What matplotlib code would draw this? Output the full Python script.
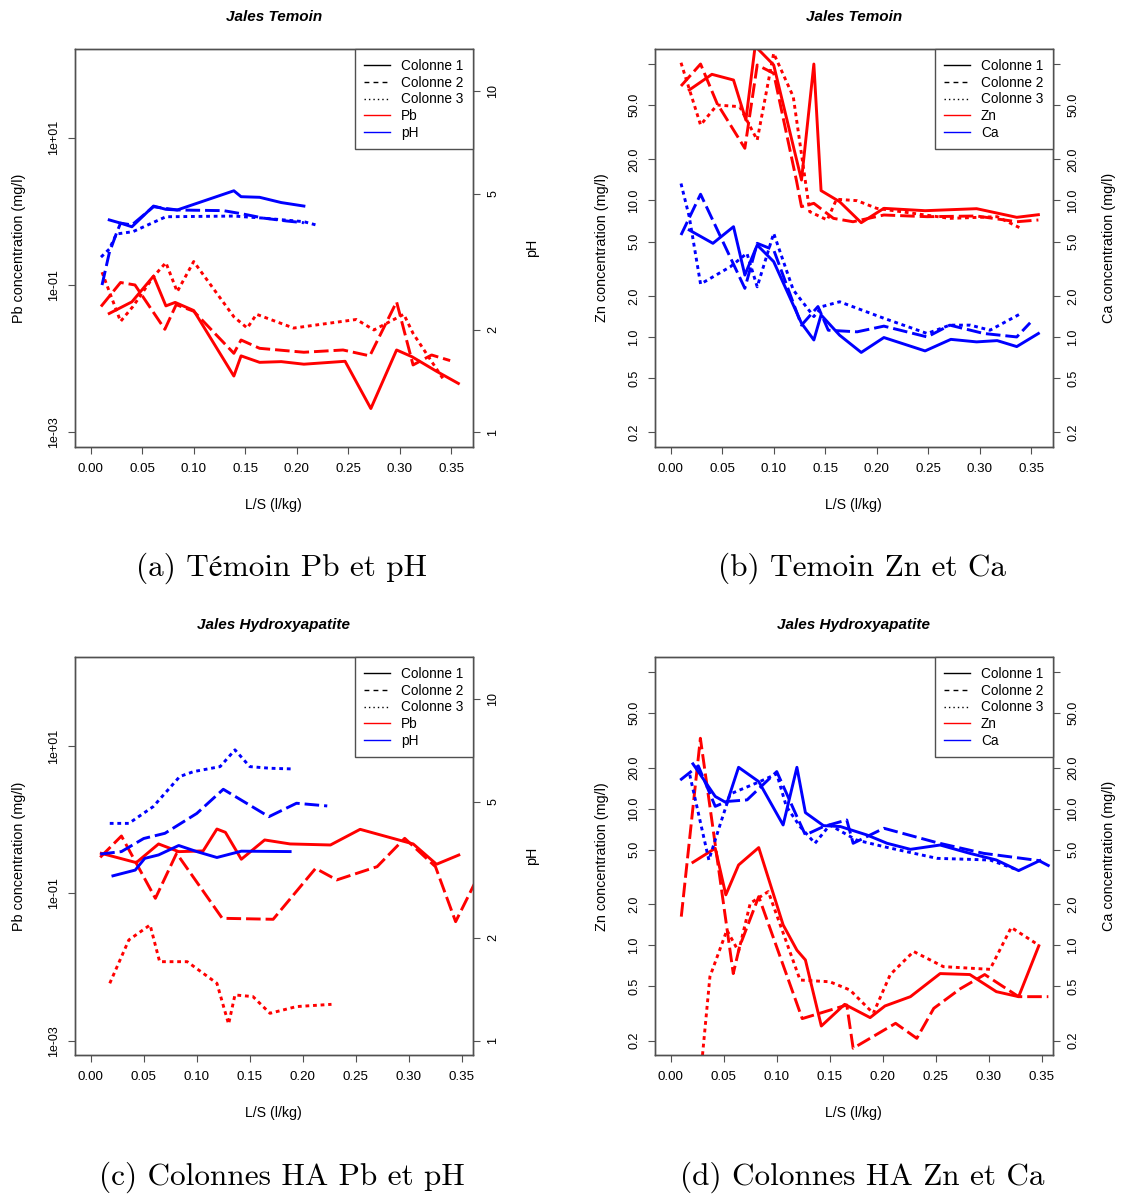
import matplotlib
matplotlib.use("Agg")
import matplotlib.pyplot as plt
from matplotlib.lines import Line2D

plt.rcParams['font.family'] = ['Liberation Sans', 'DejaVu Sans']

W, H = 1123, 1196

# ---------------- (a) Jales Temoin : Pb / pH ----------------
a_x1 = [0.018, 0.040, 0.061, 0.073, 0.082, 0.100, 0.139, 0.146, 0.164, 0.185, 0.207, 0.247, 0.272, 0.297, 0.312, 0.336, 0.357]
a_pb1 = [0.041, 0.059, 0.132, 0.052, 0.058, 0.045, 0.0058, 0.0109, 0.0089, 0.0091, 0.0084, 0.0092, 0.0021, 0.0131, 0.0106, 0.0067, 0.0046]
a_x2 = [0.010, 0.029, 0.043, 0.072, 0.083, 0.100, 0.139, 0.146, 0.164, 0.207, 0.245, 0.271, 0.297, 0.313, 0.331, 0.349]
a_pb2 = [0.051, 0.108, 0.100, 0.025, 0.054, 0.044, 0.0118, 0.0179, 0.0138, 0.0122, 0.0131, 0.0109, 0.059, 0.0082, 0.0112, 0.0094]
a_x3 = [0.011, 0.029, 0.041, 0.061, 0.073, 0.084, 0.100, 0.139, 0.152, 0.161, 0.197, 0.258, 0.275, 0.304, 0.313, 0.343]
a_pb3 = [0.149, 0.032, 0.051, 0.130, 0.201, 0.081, 0.208, 0.037, 0.026, 0.040, 0.026, 0.034, 0.0245, 0.040, 0.022, 0.0051]
a_phx1 = [0.018, 0.029, 0.040, 0.061, 0.073, 0.084, 0.139, 0.146, 0.164, 0.185, 0.207]
a_ph1 = [4.19, 4.10, 4.00, 4.60, 4.50, 4.48, 5.10, 4.90, 4.88, 4.71, 4.60]
a_phx2 = [0.011, 0.018, 0.025, 0.029, 0.040, 0.061, 0.084, 0.129, 0.148, 0.168, 0.190, 0.207]
a_ph2 = [2.70, 3.35, 3.83, 4.10, 4.05, 4.58, 4.48, 4.46, 4.36, 4.24, 4.16, 4.11]
a_phx3 = [0.010, 0.018, 0.025, 0.041, 0.073, 0.139, 0.168, 0.207, 0.220]
a_ph3 = [3.26, 3.44, 3.81, 3.87, 4.28, 4.30, 4.24, 4.14, 4.04]

# ---------------- (b) Jales Temoin : Zn / Ca ----------------
b_x1 = [0.018, 0.040, 0.061, 0.073, 0.082, 0.100, 0.127, 0.139, 0.146, 0.164, 0.185, 0.207, 0.247, 0.297, 0.336, 0.357]
b_zn1 = [64.4, 83.9, 76.2, 38.8, 135, 98.2, 14.1, 99.8, 11.8, 9.79, 6.87, 8.75, 8.41, 8.70, 7.52, 7.86]
b_x2 = [0.010, 0.029, 0.045, 0.072, 0.084, 0.100, 0.122, 0.127, 0.139, 0.158, 0.177, 0.207, 0.249, 0.297, 0.336, 0.357]
b_zn2 = [68.9, 99.8, 51.4, 24.1, 98.2, 85.3, 14.1, 9.0, 9.52, 7.39, 6.98, 7.82, 7.6, 7.69, 6.98, 7.19]
b_x3 = [0.010, 0.029, 0.045, 0.067, 0.084, 0.100, 0.119, 0.135, 0.152, 0.161, 0.181, 0.200, 0.271, 0.317, 0.339]
b_zn3 = [102, 35.7, 50.0, 48.6, 27.7, 119.6, 57.5, 8.27, 7.19, 10.2, 9.96, 8.75, 7.39, 7.6, 6.3]
b_cax1 = [0.018, 0.041, 0.061, 0.072, 0.084, 0.100, 0.127, 0.139, 0.146, 0.164, 0.185, 0.207, 0.247, 0.272, 0.297, 0.317, 0.336, 0.357]
b_ca1 = [6.07, 4.85, 6.42, 2.84, 4.71, 3.56, 1.26, 0.95, 1.45, 1.03, 0.77, 0.99, 0.79, 0.96, 0.92, 0.94, 0.85, 1.06]
b_cax2 = [0.010, 0.029, 0.072, 0.084, 0.100, 0.127, 0.143, 0.153, 0.181, 0.207, 0.249, 0.271, 0.304, 0.336, 0.349]
b_ca2 = [5.58, 11.1, 2.27, 4.85, 4.34, 1.22, 1.67, 1.12, 1.09, 1.20, 1.00, 1.22, 1.06, 1.00, 1.27]
b_cax3 = [0.010, 0.018, 0.029, 0.058, 0.074, 0.084, 0.100, 0.119, 0.139, 0.147, 0.164, 0.207, 0.249, 0.271, 0.291, 0.310, 0.339]
b_ca3 = [13.3, 7.6, 2.44, 3.27, 4.10, 2.33, 5.74, 2.21, 1.41, 1.67, 1.81, 1.37, 1.06, 1.22, 1.22, 1.12, 1.47]

# ---------------- (c) Jales Hydroxyapatite : Pb / pH ----------------
c_x1 = [0.010, 0.043, 0.064, 0.083, 0.106, 0.119, 0.127, 0.142, 0.164, 0.188, 0.226, 0.254, 0.304, 0.326, 0.347]
c_pb1 = [0.349, 0.261, 0.468, 0.368, 0.376, 0.746, 0.673, 0.290, 0.530, 0.468, 0.453, 0.739, 0.468, 0.248, 0.331]
c_x2 = [0.009, 0.029, 0.061, 0.081, 0.124, 0.172, 0.212, 0.232, 0.270, 0.296, 0.325, 0.344, 0.362]
c_pb2 = [0.308, 0.600, 0.0855, 0.349, 0.0458, 0.0444, 0.218, 0.152, 0.230, 0.558, 0.230, 0.0412, 0.137]
c_x3 = [0.018, 0.036, 0.056, 0.065, 0.091, 0.119, 0.130, 0.136, 0.153, 0.169, 0.194, 0.227]
c_pb3 = [0.0060, 0.0233, 0.0372, 0.0118, 0.0118, 0.0060, 0.00168, 0.00417, 0.00396, 0.00235, 0.0029, 0.00311]
c_phx1 = [0.021, 0.042, 0.051, 0.064, 0.083, 0.100, 0.119, 0.142, 0.188]
c_ph1 = [3.04, 3.16, 3.42, 3.50, 3.73, 3.58, 3.44, 3.59, 3.58]
c_phx2 = [0.009, 0.029, 0.050, 0.070, 0.100, 0.125, 0.168, 0.194, 0.223]
c_ph2 = [3.52, 3.58, 3.91, 4.05, 4.63, 5.45, 4.53, 4.96, 4.87]
c_phx3 = [0.018, 0.036, 0.059, 0.084, 0.097, 0.122, 0.136, 0.150, 0.169, 0.191]
c_ph3 = [4.33, 4.33, 4.85, 5.94, 6.14, 6.35, 7.11, 6.35, 6.28, 6.25]

# ---------------- (d) Jales Hydroxyapatite : Zn / Ca ----------------
d_x1 = [0.021, 0.042, 0.052, 0.064, 0.083, 0.106, 0.119, 0.127, 0.142, 0.164, 0.188, 0.202, 0.226, 0.254, 0.282, 0.307, 0.328, 0.347]
d_zn1 = [4.05, 5.13, 2.34, 3.87, 5.19, 1.41, 0.92, 0.78, 0.256, 0.369, 0.295, 0.359, 0.42, 0.62, 0.61, 0.457, 0.42, 0.99]
d_x2 = [0.010, 0.028, 0.059, 0.065, 0.083, 0.124, 0.166, 0.172, 0.212, 0.232, 0.248, 0.273, 0.296, 0.328, 0.356]
d_zn2 = [1.62, 32.8, 0.62, 0.98, 2.27, 0.29, 0.365, 0.176, 0.268, 0.208, 0.345, 0.48, 0.61, 0.42, 0.42]
d_x3 = [0.030, 0.037, 0.053, 0.064, 0.075, 0.092, 0.122, 0.150, 0.169, 0.191, 0.207, 0.229, 0.257, 0.301, 0.321, 0.347]
d_zn3 = [0.157, 0.589, 1.29, 0.90, 2.03, 2.47, 0.556, 0.54, 0.47, 0.317, 0.61, 0.90, 0.697, 0.666, 1.35, 1.00]
d_cax1 = [0.021, 0.042, 0.053, 0.064, 0.083, 0.106, 0.119, 0.127, 0.144, 0.160, 0.185, 0.204, 0.226, 0.254, 0.282, 0.307, 0.328, 0.348]
d_ca1 = [21.3, 12.3, 11.0, 20.1, 15.8, 7.6, 20.1, 9.36, 7.52, 7.4, 6.42, 5.58, 5.04, 5.42, 4.71, 4.21, 3.52, 4.17]
d_cax2 = [0.009, 0.026, 0.042, 0.053, 0.072, 0.100, 0.119, 0.127, 0.144, 0.166, 0.172, 0.201, 0.251, 0.295, 0.347, 0.361]
d_ca2 = [16.2, 20.6, 10.4, 11.3, 11.6, 18.7, 8.75, 6.42, 7.4, 8.27, 5.58, 7.19, 5.64, 4.71, 4.17, 3.66]
d_cax3 = [0.018, 0.036, 0.047, 0.056, 0.084, 0.100, 0.109, 0.122, 0.136, 0.150, 0.175, 0.201, 0.251, 0.301, 0.328]
d_ca3 = [17.7, 4.21, 7.82, 12.8, 15.8, 18.0, 10.4, 7.39, 5.58, 7.6, 5.9, 5.27, 4.33, 4.21, 3.54]

conc_ticks = [0.2, 0.5, 1, 2, 5, 10, 20, 50, 100]
conc_labels = ['0.2', '0.5', '1.0', '2.0', '5.0', '10.0', '20.0', '50.0', '']
pb_ticks = [1e-3, 1e-1, 1e1]
pb_labels = ['1e-03', '1e-01', '1e+01']
ph_ticks = [1, 2, 5, 10]
ph_labels = ['1', '2', '5', '10']
x_ticks = [0.0, 0.05, 0.10, 0.15, 0.20, 0.25, 0.30, 0.35]
x_labels = ['0.00', '0.05', '0.10', '0.15', '0.20', '0.25', '0.30', '0.35']

styles = ['-', (0, (5, 1.7)), (0, (1.3, 1.3))]
GREY = '#505050'
CAPFONT = ['cmr10', 'STIXGeneral', 'DejaVu Serif']

fig = plt.figure(figsize=(W / 100, H / 100), dpi=100)


def fx(x):
    return x / W


def fy(y):
    return 1 - y / H


def panel(box, xlim, yl, yr, lt, ll, rt, rl, left, right, names,
          title, lab_l, lab_r, caption, xl_l, xl_r):
    x0, y0, x1, y1 = box
    ax = fig.add_axes([fx(x0), fy(y1), (x1 - x0) / W, (y1 - y0) / H])
    ax2 = ax.twinx()
    for (xs, ys), ls in zip(left, styles):
        ax.plot(xs, ys, color='red', lw=2.1, linestyle=ls)
    for (xs, ys), ls in zip(right, styles):
        ax2.plot(xs, ys, color='blue', lw=2.1, linestyle=ls)
    ax.set_xlim(*xlim)
    for a, lim, t, lab in ((ax, yl, lt, ll), (ax2, yr, rt, rl)):
        a.set_yscale('log')
        a.set_ylim(*lim)
        a.set_yticks(t)
        a.set_yticklabels(lab)
        a.minorticks_off()
        for s in a.spines.values():
            s.set_color(GREY)
            s.set_linewidth(1.0)
        a.tick_params(axis='y', length=5, width=0.8, color=GREY,
                      labelsize=9, labelrotation=90, pad=5.5)
    for t in ax.get_yticklabels() + ax2.get_yticklabels():
        t.set_va('center')
    ax.set_xticks(x_ticks)
    ax.set_xticklabels(x_labels)
    ax.tick_params(axis='x', length=5, width=0.8, color=GREY, labelsize=9.6, pad=6.5)

    handles = [Line2D([], [], color='black', lw=1, linestyle='-'),
               Line2D([], [], color='black', lw=1, linestyle=(0, (3.5, 3))),
               Line2D([], [], color='black', lw=1, linestyle=(0, (1, 2.2))),
               Line2D([], [], color='red', lw=1),
               Line2D([], [], color='blue', lw=1)]
    leg = ax2.legend(handles, ['Colonne 1', 'Colonne 2', 'Colonne 3'] + names,
                     loc='upper right', borderaxespad=0, fontsize=9.8,
                     fancybox=False, framealpha=1, edgecolor=GREY,
                     handlelength=1.9, handletextpad=0.8, labelspacing=0.2,
                     borderpad=0.7)
    leg.get_frame().set_linewidth(1.0)

    cx = (x0 + x1) / 2
    cy = (y0 + y1) / 2
    fig.text(fx(cx), fy(y0 - 32), title, ha='center', va='center',
             fontsize=11, fontweight='bold', fontstyle='italic')
    fig.text(fx(xl_l), fy(cy), lab_l, rotation=90, ha='center', va='center', fontsize=10.4)
    fig.text(fx(xl_r), fy(cy), lab_r, rotation=90, ha='center', va='center', fontsize=10.4)
    fig.text(fx(cx), fy(y1 + 58), 'L/S (l/kg)', ha='center', va='center', fontsize=10.2)
    fig.text(fx(cx + 8), fy(y1 + 122), caption, ha='center', va='center',
             fontsize=22.5, family=CAPFONT)


panel((75, 49.3, 472.7, 446.7), (-0.01524, 0.3709), (10 ** -3.196, 10 ** 2.200),
      (10 ** -0.0422, 10 ** 1.122), pb_ticks, pb_labels, ph_ticks, ph_labels,
      [(a_x1, a_pb1), (a_x2, a_pb2), (a_x3, a_pb3)],
      [(a_phx1, a_ph1), (a_phx2, a_ph2), (a_phx3, a_ph3)], ['Pb', 'pH'],
      'Jales Temoin', 'Pb concentration (mg/l)', 'pH',
      '(a) Témoin Pb et pH', 19, 532)

panel((655, 49.3, 1052.7, 446.7), (-0.01524, 0.3709), (10 ** -0.804, 10 ** 2.107),
      (10 ** -0.804, 10 ** 2.107), conc_ticks, conc_labels, conc_ticks, conc_labels,
      [(b_x1, b_zn1), (b_x2, b_zn2), (b_x3, b_zn3)],
      [(b_cax1, b_ca1), (b_cax2, b_ca2), (b_cax3, b_ca3)], ['Zn', 'Ca'],
      'Jales Temoin', 'Zn concentration (mg/l)', 'Ca concentration (mg/l)',
      '(b) Temoin Zn et Ca', 602, 1109)

panel((75, 657.3, 472.7, 1055), (-0.01477, 0.3601), (10 ** -3.195, 10 ** 2.204),
      (10 ** -0.042, 10 ** 1.123), pb_ticks, pb_labels, ph_ticks, ph_labels,
      [(c_x1, c_pb1), (c_x2, c_pb2), (c_x3, c_pb3)],
      [(c_phx1, c_ph1), (c_phx2, c_ph2), (c_phx3, c_ph3)], ['Pb', 'pH'],
      'Jales Hydroxyapatite', 'Pb concentration (mg/l)', 'pH',
      '(c) Colonnes HA Pb et pH', 19, 532)

panel((655, 657.3, 1052.7, 1055), (-0.01477, 0.3601), (10 ** -0.804, 10 ** 2.109),
      (10 ** -0.804, 10 ** 2.109), conc_ticks, conc_labels, conc_ticks, conc_labels,
      [(d_x1, d_zn1), (d_x2, d_zn2), (d_x3, d_zn3)],
      [(d_cax1, d_ca1), (d_cax2, d_ca2), (d_cax3, d_ca3)], ['Zn', 'Ca'],
      'Jales Hydroxyapatite', 'Zn concentration (mg/l)', 'Ca concentration (mg/l)',
      '(d) Colonnes HA Zn et Ca', 602, 1109)

fig.savefig('out.png', dpi=100)
